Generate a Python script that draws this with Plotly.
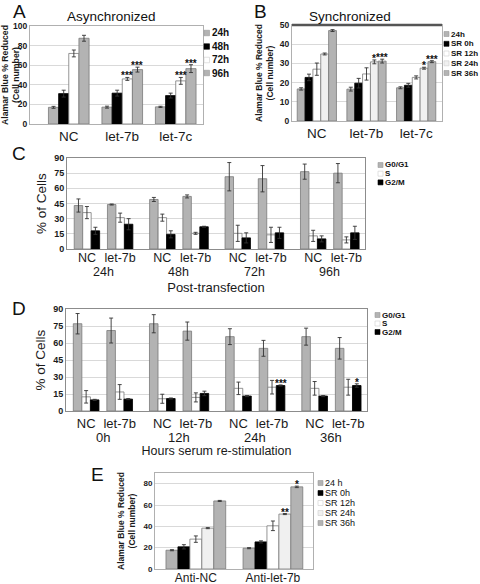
import plotly.graph_objects as go

W, H = 480, 584
FONT = "Liberation Sans, Arial, Helvetica, sans-serif"

# ---------------- data ----------------
# Panel A (Asynchronized)
a_cats = ["NC", "let-7b", "let-7c"]
a_series = ["24h", "48h", "72h", "96h"]
a_24h = [17.0, 17.2, 17.5]
a_48h = [31.0, 31.5, 29.0]
a_72h = [72.0, 46.0, 44.0]
a_96h = [87.5, 55.5, 56.5]
a_24h_err = [1.0, 1.0, 0.6]
a_48h_err = [3.5, 3.0, 2.5]
a_72h_err = [3.5, 1.5, 3.5]
a_96h_err = [3.0, 2.5, 4.0]
a_24h_sig = ["", "", ""]
a_48h_sig = ["", "", ""]
a_72h_sig = ["", "***", "***"]
a_96h_sig = ["", "***", "***"]
a_yticks = [0, 20, 40, 60, 80, 100]

# Panel B (Synchronized)
b_cats = ["NC", "let-7b", "let-7c"]
b_series = ["24h", "SR 0h", "SR 12h", "SR 24h", "SR 36h"]
b_24h = [16.7, 16.6, 17.3]
b_sr0 = [22.7, 19.7, 18.6]
b_sr12 = [27.0, 24.5, 22.7]
b_sr24 = [34.9, 30.8, 27.5]
b_sr36 = [47.1, 31.2, 30.9]
b_24h_err = [0.6, 1.0, 0.5]
b_sr0_err = [1.7, 2.5, 1.0]
b_sr12_err = [3.2, 3.2, 0.8]
b_sr24_err = [0.5, 1.0, 0.5]
b_sr36_err = [0.5, 1.0, 0.5]
b_24h_sig = ["", "", ""]
b_sr0_sig = ["", "", ""]
b_sr12_sig = ["", "", ""]
b_sr24_sig = ["", "*", "*"]
b_sr36_sig = ["", "***", "***"]
b_yticks = [0, 10, 20, 30, 40, 50]

# Panel C (post-transfection cell cycle)
c_labels = ["NC", "let-7b", "NC", "let-7b", "NC", "let-7b", "NC", "let-7b"]
c_times = ["24h", "48h", "72h", "96h"]
c_series = ["G0/G1", "S", "G2/M"]
c_g0 = [43.0, 44.0, 49.0, 52.0, 71.5, 69.5, 76.5, 75.0]
c_s = [36.0, 31.0, 31.0, 15.5, 15.5, 14.0, 13.0, 9.0]
c_g2m = [18.0, 24.5, 14.5, 22.0, 11.0, 16.0, 10.0, 16.0]
c_g0_err = [6.5, 0.5, 2.0, 1.5, 14.0, 13.0, 7.5, 9.5]
c_s_err = [6.0, 4.5, 3.5, 1.0, 8.0, 7.5, 5.5, 3.0]
c_g2m_err = [3.5, 5.5, 3.5, 0.5, 5.0, 5.5, 3.0, 6.5]
c_yticks = [0, 15, 30, 45, 60, 75, 90]

# Panel D (serum re-stimulation cell cycle)
d_labels = ["NC", "let-7b", "NC", "let-7b", "NC", "let-7b", "NC", "let-7b"]
d_times = ["0h", "12h", "24h", "36h"]
d_series = ["G0/G1", "S", "G2/M"]
d_g0 = [77.0, 71.0, 77.0, 70.5, 65.6, 55.3, 65.6, 55.3]
d_s = [12.5, 16.8, 10.8, 12.0, 20.0, 21.0, 20.0, 21.0]
d_g2m = [9.8, 10.5, 11.0, 15.5, 13.2, 22.5, 13.2, 22.5]
d_g0_err = [9.0, 11.0, 8.0, 8.0, 7.0, 7.0, 7.5, 9.5]
d_s_err = [5.5, 6.5, 4.0, 4.0, 5.5, 6.0, 6.0, 7.0]
d_g2m_err = [0.5, 0.5, 0.5, 2.0, 0.5, 0.5, 0.5, 1.5]
d_g2m_sig = ["", "", "", "", "", "***", "", "*"]
d_yticks = [0, 15, 30, 45, 60, 75, 90]

# Panel E (anti-miR)
e_cats = ["Anti-NC", "Anti-let-7b"]
e_series = ["24 h", "SR 0h", "SR 12h", "SR 24h", "SR 36h"]
e_24h = [17.6, 19.5]
e_sr0 = [20.8, 25.4]
e_sr12 = [28.0, 40.5]
e_sr24 = [38.3, 51.5]
e_sr36 = [63.8, 77.0]
e_24h_err = [0.5, 0.5]
e_sr0_err = [2.0, 1.0]
e_sr12_err = [3.0, 4.5]
e_sr24_err = [0.5, 0.5]
e_sr36_err = [0.5, 0.7]
e_sr24_sig = ["", "**"]
e_sr36_sig = ["", "*"]
e_yticks = [0, 20, 40, 60, 80]

# ---------------- styling helpers ----------------
GRAY = "#b3b3b3"
BLACK = "#000000"
WHITE = "#ffffff"
LIGHT = "#f0f0f0"
EDGE = "#7a7a7a"


def X(px):
    return px / W


def Y(py):
    return 1 - py / H


fig = go.Figure()
annotations = []
shapes = []


def add_bars(axis_id, xvals, xnum, series, width):
    n = len(series)
    for i, (name, vals, errs, sigs, fill) in enumerate(series):
        off = -n * width / 2 + i * width
        edge = BLACK if fill == BLACK else EDGE
        fig.add_trace(go.Bar(
            x=xvals, y=vals, name=name, width=width, offset=off,
            marker=dict(color=fill, line=dict(color=edge, width=0.8)),
            error_y=dict(type="data", array=errs, color="#333333",
                         thickness=0.9, width=2),
            xaxis="x" + axis_id, yaxis="y" + axis_id, showlegend=False,
        ))
        if sigs:
            for k, s in enumerate(sigs):
                if s:
                    annotations.append(dict(
                        x=xnum[k] + off + width / 2, y=vals[k] + errs[k],
                        xref="x" + axis_id, yref="y" + axis_id, text=s,
                        showarrow=False, yanchor="bottom", yshift=-5,
                        borderpad=0,
                        font=dict(size=10, family=FONT, color="#111",
                                  weight="bold")))


# positions for C/D (pairs of groups)
cd_pos = [i + (i // 2) * 0.27 for i in range(8)]

add_bars("", a_cats, list(range(3)), [
    (a_series[0], a_24h, a_24h_err, a_24h_sig, GRAY),
    (a_series[1], a_48h, a_48h_err, a_48h_sig, BLACK),
    (a_series[2], a_72h, a_72h_err, a_72h_sig, WHITE),
    (a_series[3], a_96h, a_96h_err, a_96h_sig, GRAY),
], 0.19)

add_bars("2", b_cats, list(range(3)), [
    (b_series[0], b_24h, b_24h_err, b_24h_sig, GRAY),
    (b_series[1], b_sr0, b_sr0_err, b_sr0_sig, BLACK),
    (b_series[2], b_sr12, b_sr12_err, b_sr12_sig, WHITE),
    (b_series[3], b_sr24, b_sr24_err, b_sr24_sig, LIGHT),
    (b_series[4], b_sr36, b_sr36_err, b_sr36_sig, GRAY),
], 0.158)

add_bars("3", cd_pos, cd_pos, [
    (c_series[0], c_g0, c_g0_err, None, GRAY),
    (c_series[1], c_s, c_s_err, None, WHITE),
    (c_series[2], c_g2m, c_g2m_err, None, BLACK),
], 0.255)

add_bars("4", cd_pos, cd_pos, [
    (d_series[0], d_g0, d_g0_err, None, GRAY),
    (d_series[1], d_s, d_s_err, None, WHITE),
    (d_series[2], d_g2m, d_g2m_err, d_g2m_sig, BLACK),
], 0.255)

add_bars("5", e_cats, list(range(2)), [
    (e_series[0], e_24h, e_24h_err, None, GRAY),
    (e_series[1], e_sr0, e_sr0_err, None, BLACK),
    (e_series[2], e_sr12, e_sr12_err, None, WHITE),
    (e_series[3], e_sr24, e_sr24_err, e_sr24_sig, LIGHT),
    (e_series[4], e_sr36, e_sr36_err, e_sr36_sig, GRAY),
], 0.155)


def xax(dom, rng, size, anchor, tickvals=None, ticktext=None, title=None,
        standoff=0, tsize=13, linecolor="#b0b0b0", lift=0):
    d = dict(domain=[X(dom[0]), X(dom[1])], range=rng, anchor=anchor,
             showline=True, mirror=True, linecolor=linecolor, linewidth=1,
             showgrid=False, zeroline=False, ticks="", automargin=False,
             ticklabelstandoff=lift,
             tickfont=dict(size=size, family=FONT, color="#1a1a1a"),
             fixedrange=True)
    if tickvals is not None:
        d.update(tickmode="array", tickvals=tickvals, ticktext=ticktext)
    if title:
        d["title"] = dict(text=title, standoff=standoff,
                          font=dict(size=tsize, family=FONT, color="#1a1a1a"))
    return d


def yax(dom, rng, ticks, size, anchor, title, tsize, standoff, bold_title,
        linecolor="#b0b0b0"):
    return dict(domain=[Y(dom[1]), Y(dom[0])], range=rng, anchor=anchor,
                tickmode="array", tickvals=ticks,
                showline=True, mirror=True, linecolor=linecolor, linewidth=1,
                showgrid=True, gridcolor="#d9d9d9", gridwidth=1,
                zeroline=False, ticks="", automargin=False, fixedrange=True,
                tickfont=dict(size=size, family=FONT, color="#1a1a1a",
                              weight="bold"),
                title=dict(text=title, standoff=standoff,
                           font=dict(size=tsize, family=FONT, color="#1a1a1a",
                                     weight="bold" if bold_title else "normal")))


ALAMAR = "Alamar Blue % Reduced<br>(Cell number)"

fig.update_layout(
    xaxis=xax((30, 203), [-0.725, 2.51], 13.5, "y"),
    yaxis=yax((26, 124), [0, 100], a_yticks, 8.5, "x", ALAMAR, 8.7, 3, True),
    xaxis2=xax((292, 442), [-0.5, 2.52], 13.5, "y2"),
    yaxis2=yax((25, 121), [0, 50], b_yticks, 8.5, "x2", ALAMAR, 8.5, 4, True),
    xaxis3=xax((67, 365), [-0.6, 8.37], 12.5, "y3", cd_pos, c_labels,
               "Post-transfection", 18, 13, linecolor="#8c8c8c", lift=-3),
    yaxis3=yax((158, 249), [0, 90], c_yticks, 9, "x3", "% of Cells", 13.5, 4,
               False, linecolor="#8c8c8c"),
    xaxis4=xax((66, 367), [-0.6, 8.37], 13, "y4", cd_pos, d_labels,
               "Hours serum re-stimulation", 16, 12.5, linecolor="#8c8c8c"),
    yaxis4=yax((309, 411), [0, 90], d_yticks, 9, "x4", "% of Cells", 13.5, 4,
               False, linecolor="#8c8c8c"),
    xaxis5=xax((155, 313), [-0.53, 1.52], 12, "y5", lift=-2),
    yaxis5=yax((473, 569), [0, 90], e_yticks, 8, "x5", ALAMAR, 8.5, 6, True),
)

# time labels under the pairs in C and D
for axis_id, times, ypix, fs in (("3", c_times, 271.5, 12.5),
                                 ("4", d_times, 437, 13)):
    for j, t in enumerate(times):
        centre = (cd_pos[2 * j] + cd_pos[2 * j + 1]) / 2
        annotations.append(dict(x=centre, y=Y(ypix), xref="x" + axis_id,
                                yref="paper", text=t, showarrow=False,
                                yanchor="middle", borderpad=0,
                                font=dict(size=fs, family=FONT, color="#1a1a1a")))

# panel letters and titles
for letter, px, py in (("A", 19, 12), ("B", 260, 12), ("C", 19, 153),
                       ("D", 19, 309), ("E", 97, 474)):
    annotations.append(dict(x=X(px), y=Y(py), xref="paper", yref="paper",
                            text=letter, showarrow=False, xanchor="center",
                            yanchor="middle", borderpad=0,
                            font=dict(size=19, family=FONT, color="#111")))
for txt, px, py in (("Asynchronized", 111, 16), ("Synchronized", 350, 16)):
    annotations.append(dict(x=X(px), y=Y(py), xref="paper", yref="paper",
                            text=txt, showarrow=False, xanchor="center",
                            yanchor="middle", borderpad=0,
                            font=dict(size=13.5, family=FONT, color="#111")))

# top heavy border on panel B
shapes.append(dict(type="line", xref="x2 domain", yref="y2 domain", x0=0, x1=1,
                   y0=1, y1=1, line=dict(color="#555555", width=2.5)))


# manual compact legends
def legend(x_sw, rows, labels, fills, sw, fsize, bold):
    for ypix, lab, fill in zip(rows, labels, fills):
        edge = BLACK if fill == BLACK else ("#cfcfcf" if fill in (WHITE, LIGHT) else "#9a9a9a")
        shapes.append(dict(type="rect", xref="paper", yref="paper",
                           x0=X(x_sw), x1=X(x_sw + sw),
                           y0=Y(ypix + sw / 2), y1=Y(ypix - sw / 2),
                           fillcolor=fill, line=dict(color=edge, width=0.6)))
        annotations.append(dict(x=X(x_sw + sw + 1), y=Y(ypix), xref="paper",
                                yref="paper", text=lab, showarrow=False,
                                xanchor="left", yanchor="middle", borderpad=0,
                                font=dict(size=fsize, family=FONT, color="#111",
                                          weight="bold" if bold else "normal")))


legend(204, [33, 46.5, 60, 73], a_series, [GRAY, BLACK, WHITE, GRAY], 5.5, 10, True)
legend(444, [34, 43.8, 53.5, 63.3, 73], b_series,
       [GRAY, BLACK, WHITE, LIGHT, GRAY], 5, 8, True)
legend(378, [165, 173.7, 182.4], c_series, [GRAY, WHITE, BLACK], 5, 8, True)
legend(375, [315, 323.5, 332], d_series, [GRAY, WHITE, BLACK], 5, 8, True)
legend(318, [483, 493, 503, 513, 523], e_series,
       [GRAY, BLACK, WHITE, LIGHT, GRAY], 5, 9, False)

fig.update_layout(
    width=W, height=H, margin=dict(l=0, r=0, t=0, b=0),
    paper_bgcolor="white", plot_bgcolor="white", barmode="overlay",
    showlegend=False, annotations=annotations, shapes=shapes,
    font=dict(family=FONT, color="#1a1a1a"),
)

fig.write_html(
    "out.html",
    config={"displayModeBar": False},
    post_script="document.body.style.margin='0px';"
                "document.body.style.overflow='hidden';",
)
